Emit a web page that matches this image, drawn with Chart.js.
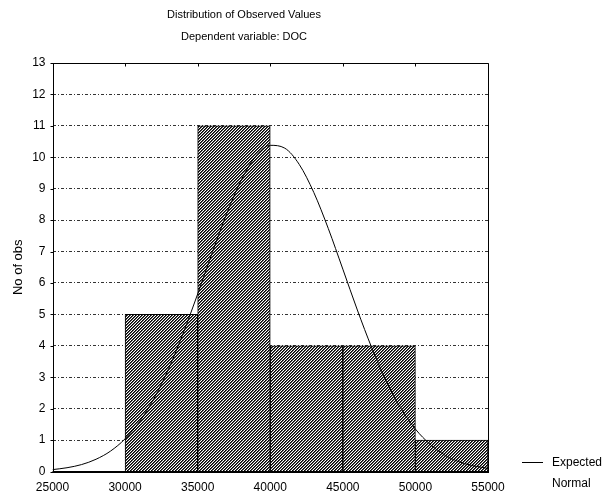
<!DOCTYPE html>
<html lang="en">
<head>
<meta charset="UTF-8">
<title>Distribution of Observed Values</title>
<script src="https://cdn.jsdelivr.net/npm/chart.js"></script>
<style>
  html, body { margin: 0; padding: 0; background: #fff; }
  #wrap { position: relative; width: 608px; height: 503px; }
</style>
</head>
<body>
<div id="wrap"><canvas id="chart" width="608" height="503"></canvas></div>
<script>
// Histogram bins (lower edge), width and observed counts
const binStarts = [25000, 30000, 35000, 40000, 45000, 50000];
const binWidth = 5000;
const counts = [0, 5, 11, 4, 4, 1];

// Expected normal curve, every 1000
const curveX = [25000, 26000, 27000, 28000, 29000, 30000, 31000, 32000, 33000, 34000,
  35000, 36000, 37000, 38000, 39000, 40000, 41000, 42000, 43000, 44000,
  45000, 46000, 47000, 48000, 49000, 50000, 51000, 52000, 53000, 54000, 55000];
const curveY = [0.06, 0.12, 0.22, 0.39, 0.65, 1.04, 1.59, 2.33, 3.27, 4.40,
  5.65, 6.96, 8.21, 9.27, 10.03, 10.38, 10.29, 9.77, 8.88, 7.73,
  6.44, 5.14, 3.93, 2.87, 2.01, 1.35, 0.87, 0.53, 0.31, 0.18, 0.10];

// Tick labels
const xTicks = [25000, 30000, 35000, 40000, 45000, 50000, 55000];
const yTicks = [0, 1, 2, 3, 4, 5, 6, 7, 8, 9, 10, 11, 12, 13];

const FONT = "'Liberation Sans Narrow', 'Arial Narrow', 'Liberation Sans', Arial, sans-serif";
Chart.defaults.color = '#000';
Chart.defaults.font.family = FONT;

const canvas = document.getElementById('chart');
const ctx = canvas.getContext('2d');

// Diagonal hatching used by the bars
function makeHatch() {
  const tile = document.createElement('canvas');
  tile.width = 3;
  tile.height = 3;
  const g = tile.getContext('2d');
  g.fillStyle = '#fff';
  g.fillRect(0, 0, 3, 3);
  for (let x = 0; x < 3; x++) {
    for (let y = 0; y < 3; y++) {
      const k = (x + y) % 3;
      if (k === 0) { g.fillStyle = '#000'; g.fillRect(x, y, 1, 1); }
      else if (k === 1) { g.fillStyle = '#555'; g.fillRect(x, y, 1, 1); }
    }
  }
  return ctx.createPattern(tile, 'repeat');
}

// Box round the plot, small ticks, and the legend on the right
const frame = {
  id: 'frame',
  afterDatasetsDraw(chart) {
    const { ctx, chartArea: a, scales: { x, y } } = chart;
    const L = Math.round(a.left) + 0.5, R = Math.round(a.right) + 0.5;
    const T = Math.round(a.top) + 0.5, B = Math.round(a.bottom) + 0.5;
    ctx.save();
    ctx.strokeStyle = '#000';
    ctx.lineWidth = 1;
    ctx.setLineDash([]);
    ctx.beginPath();
    ctx.moveTo(L, B); ctx.lineTo(L, T); ctx.lineTo(R, T); ctx.lineTo(R, B);
    yTicks.forEach(v => {
      const py = Math.round(y.getPixelForValue(v)) + 0.5;
      ctx.moveTo(L - 3, py); ctx.lineTo(L, py);
    });
    xTicks.forEach(v => {
      const px = Math.round(x.getPixelForValue(v)) + 0.5;
      ctx.moveTo(px, T); ctx.lineTo(px, T + 3);
    });
    ctx.stroke();
    ctx.lineWidth = 2;
    ctx.beginPath();
    ctx.moveTo(a.left, Math.round(a.bottom)); ctx.lineTo(a.right + 1, Math.round(a.bottom));
    ctx.stroke();

    // legend
    const ly = Math.round(a.bottom) - 9.5;
    ctx.lineWidth = 1;
    ctx.beginPath();
    ctx.moveTo(a.right + 34, ly); ctx.lineTo(a.right + 55, ly);
    ctx.stroke();
    ctx.fillStyle = '#000';
    ctx.font = '12px ' + FONT;
    ctx.textAlign = 'left';
    ctx.textBaseline = 'middle';
    ctx.fillText('Expected', a.right + 64, ly);
    ctx.fillText('Normal', a.right + 64, ly + 21);
    ctx.restore();
  }
};

new Chart(ctx, {
  type: 'bar',
  data: {
    datasets: [
      {
        type: 'line',
        label: 'Expected Normal',
        data: curveX.map((v, i) => ({ x: v, y: curveY[i] })),
        borderColor: '#000',
        borderWidth: 1,
        pointRadius: 0,
        cubicInterpolationMode: 'monotone',
        fill: false,
        order: 0
      },
      {
        type: 'bar',
        label: 'Observed',
        data: binStarts.map((v, i) => ({ x: v + binWidth / 2, y: counts[i] })),
        backgroundColor: makeHatch(),
        borderColor: '#000',
        borderWidth: 1,
        barPercentage: 1,
        categoryPercentage: 1,
        order: 1
      }
    ]
  },
  options: {
    responsive: false,
    animation: false,
    layout: { padding: { left: 0, right: 120, top: 0, bottom: 0 } },
    plugins: {
      legend: { display: false },
      tooltip: { enabled: false },
      title: {
        display: true,
        text: ['Distribution of Observed Values', 'Dependent variable: DOC'],
        color: '#000',
        font: { size: 11, weight: 'normal', lineHeight: 2 },
        padding: { top: 4, bottom: 15 }
      }
    },
    scales: {
      x: {
        type: 'linear',
        min: 25000,
        max: 55000,
        offset: false,
        afterBuildTicks: s => { s.ticks = xTicks.map(v => ({ value: v })); },
        afterFit: s => { s.height = 31.5; },
        ticks: { callback: v => String(v), padding: 9, font: { size: 12 }, maxRotation: 0 },
        grid: { display: false, drawTicks: false },
        border: { display: false }
      },
      y: {
        min: 0,
        max: 13,
        afterBuildTicks: s => { s.ticks = yTicks.map(v => ({ value: v })); },
        afterFit: s => { s.width = 52.5; },
        ticks: { padding: 7, font: { size: 12 } },
        grid: { color: '#333', lineWidth: 1, drawTicks: false },
        border: { display: false, dash: [3, 2, 1, 2] },
        title: {
          display: true,
          text: 'No of obs',
          font: { size: 13 },
          padding: { top: 11, bottom: 0 }
        }
      }
    }
  },
  plugins: [frame]
});
</script>
</body>
</html>
